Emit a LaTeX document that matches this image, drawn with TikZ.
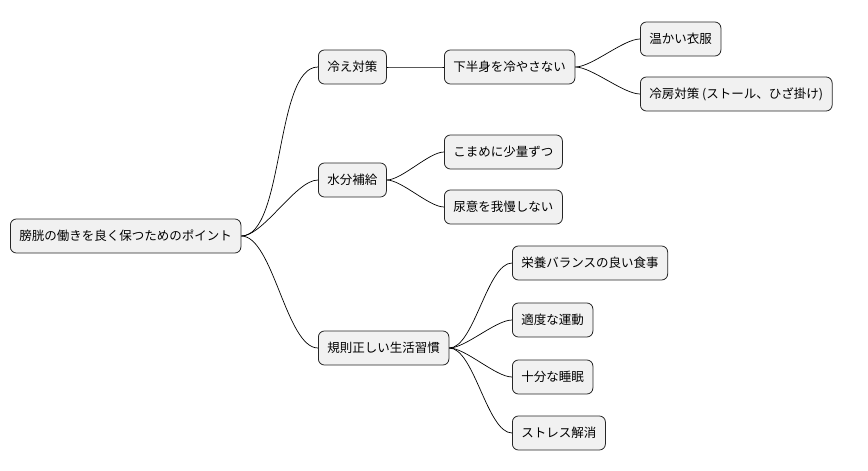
\documentclass[tikz,border=0pt]{standalone}
\usepackage{fontspec}
\newfontfamily\cjk{Noto Sans CJK JP}
\begin{document}
\begin{tikzpicture}[x=1pt,y=-1pt,
  box/.style={draw=black!85,fill={rgb,255:red,241;green,241;blue,241},rounded corners=6pt,line width=0.8pt,minimum height=34pt,inner xsep=9pt,font=\cjk\fontsize{12.5}{14}\selectfont,anchor=west},
  ed/.style={draw=black,line width=0.7pt,out=0,in=180,looseness=0.6}]
\useasboundingbox (0,0) rectangle (868,471);
\node[box] (r) at (10,236) {膀胱の働きを良く保つためのポイント};
\node[box] (a) at (318,67) {冷え対策};
\node[box] (a1) at (444,67) {下半身を冷やさない};
\node[box] (a11) at (640,39) {温かい衣服};
\node[box] (a12) at (640,94) {冷房対策 (ストール、ひざ掛け)};
\node[box] (b) at (318,180) {水分補給};
\node[box] (b1) at (444,152) {こまめに少量ずつ};
\node[box] (b2) at (444,207) {尿意を我慢しない};
\node[box] (c) at (318,348) {規則正しい生活習慣};
\node[box] (c1) at (512,263) {栄養バランスの良い食事};
\node[box] (c2) at (512,320) {適度な運動};
\node[box] (c3) at (512,377) {十分な睡眠};
\node[box] (c4) at (512,433) {ストレス解消};
\foreach \p/\c in {r/a,r/b,r/c,a/a1,a1/a11,a1/a12,b/b1,b/b2,c/c1,c/c2,c/c3,c/c4}
  \draw[ed] (\p.east) to (\c.west);
\end{tikzpicture}
\end{document}
